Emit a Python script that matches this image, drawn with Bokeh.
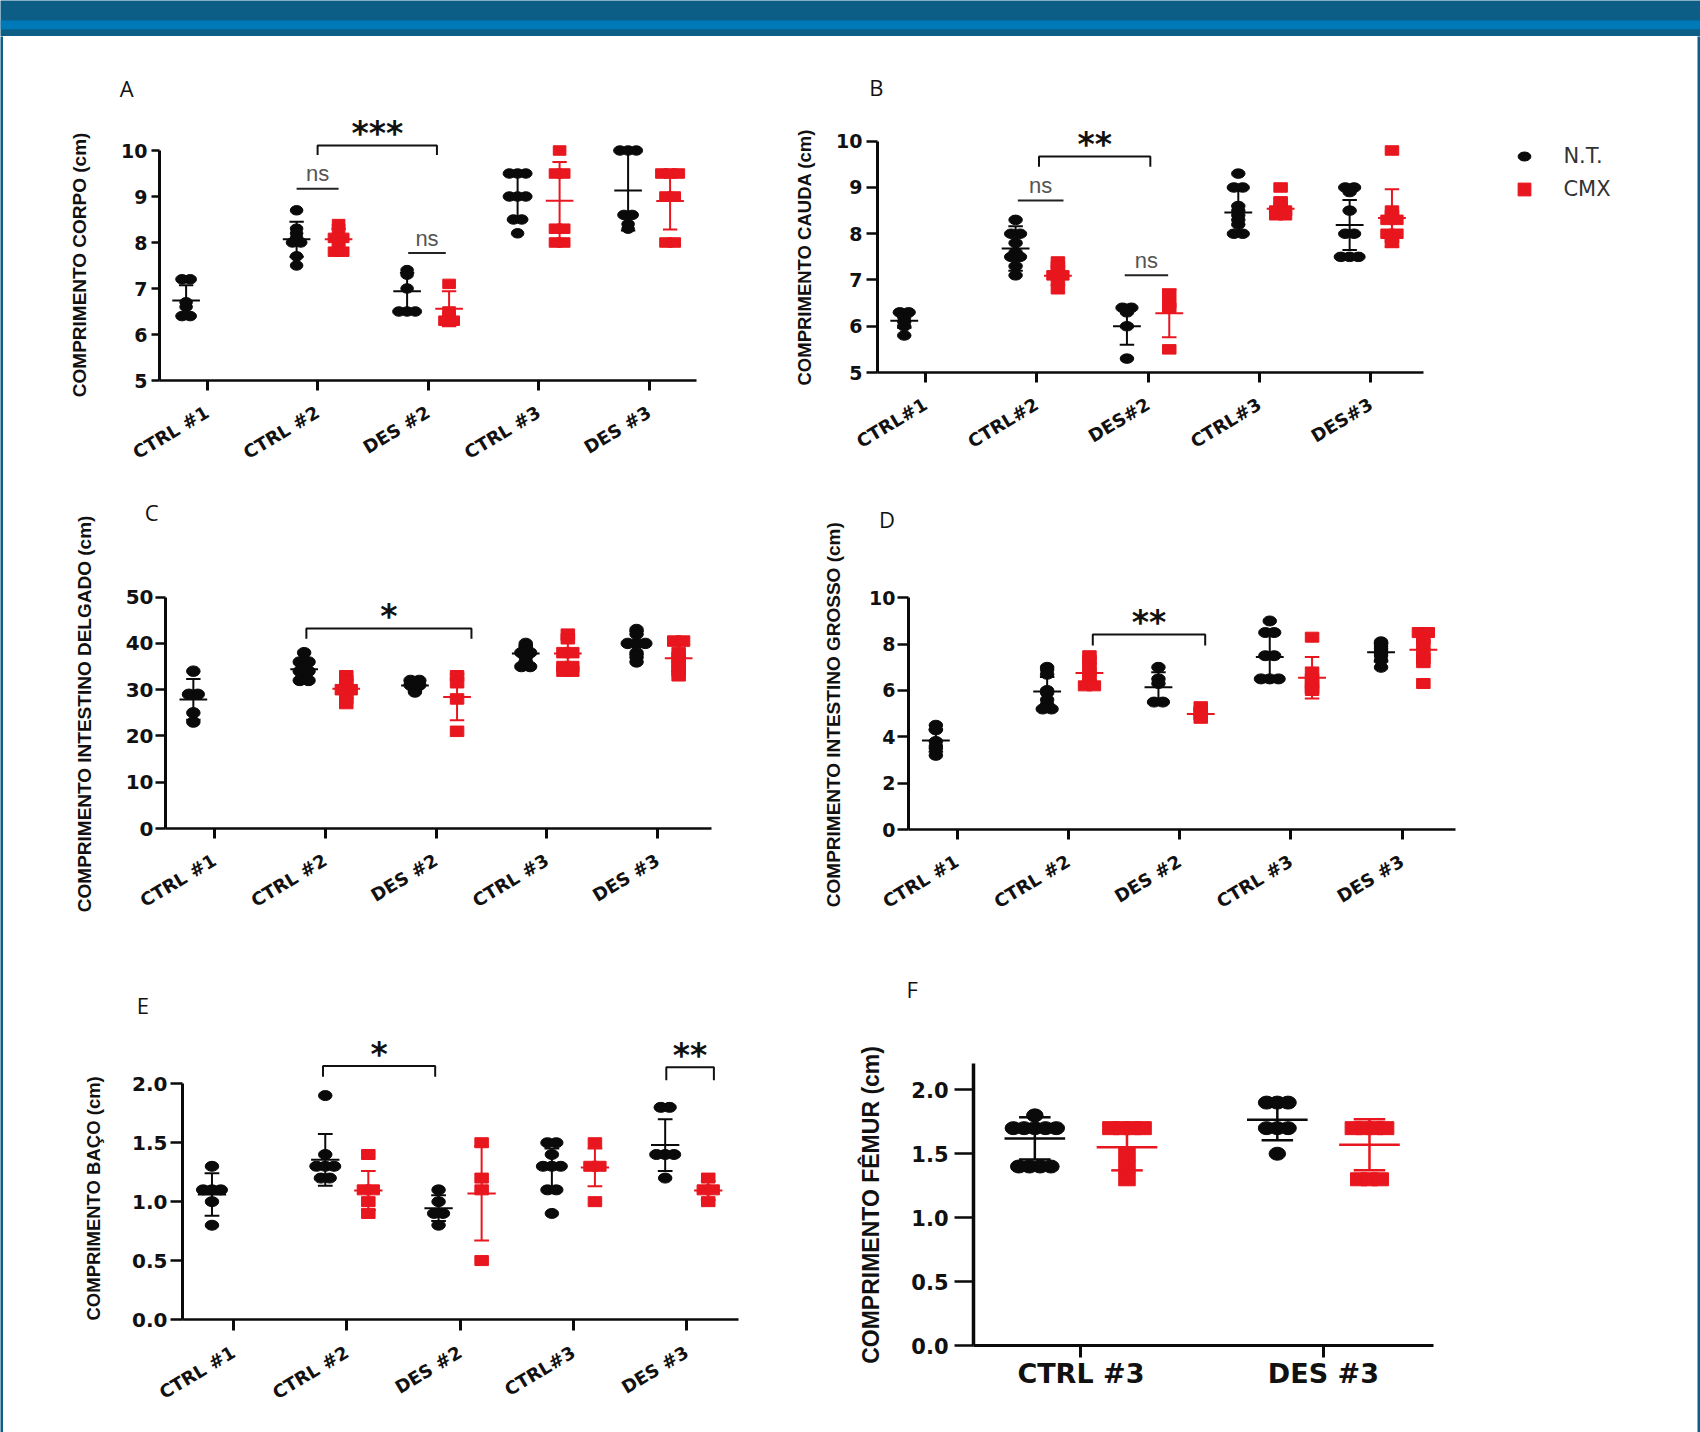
import math
from bokeh.plotting import figure
from bokeh.models import (Range1d, FixedTicker, NumeralTickFormatter, Legend, LegendItem,
                          BoxAnnotation, Title)
from bokeh.layouts import column, row
from bokeh.embed import file_html
from bokeh.resources import INLINE
from bokeh.core.properties import value

# ---------------------------------------------------------------- data
SERIES = ["N.T.", "CMX"]

# A - body length
A_CATS = ["CTRL #1", "CTRL #2", "DES #2", "CTRL #3", "DES #3"]
A_NT = [
    [7.2, 7.2, 6.7, 6.6, 6.4, 6.4],
    [8.7, 8.3, 8.2, 8.1, 8.0, 8.0, 7.7, 7.5],
    [7.4, 7.3, 7.0, 6.5, 6.5, 6.5],
    [9.5, 9.5, 9.5, 9.0, 9.0, 9.0, 8.5, 8.5, 8.2],
    [10.0, 10.0, 10.0, 8.6, 8.6, 8.4, 8.3],
]
A_NT_MEAN = [6.74, 8.07, 6.94, 9.0, 9.13]
A_NT_SD = [0.33, 0.38, 0.40, 0.48, 0.87]
A_CMX = [
    None,
    [8.4, 8.3, 8.1, 8.1, 8.0, 7.9, 7.8, 7.8],
    [7.1, 6.5, 6.4, 6.3, 6.3],
    [10.0, 9.5, 9.5, 8.3, 8.3, 8.0, 8.0],
    [9.5, 9.5, 9.5, 9.0, 9.0, 8.0, 8.0],
]
A_CMX_MEAN = [None, 8.07, 6.56, 8.91, 8.9]
A_CMX_SD = [None, 0.22, 0.38, 0.84, 0.62]
A_YTICKS = [5, 6, 7, 8, 9, 10]
A_SIG = [(2.0, 3.08, 10.11, 9.9, "***")]
A_NS = [(1.81, 2.19, 9.17, "ns"), (2.82, 3.16, 7.77, "ns")]

# B - tail length
B_CATS = ["CTRL#1", "CTRL#2", "DES#2", "CTRL#3", "DES#3"]
B_NT = [
    [6.3, 6.3, 6.2, 6.1, 6.0, 5.8],
    [8.3, 8.0, 8.0, 7.8, 7.6, 7.5, 7.5, 7.3, 7.1],
    [6.4, 6.4, 6.3, 6.0, 5.3],
    [9.3, 9.0, 9.0, 8.6, 8.5, 8.4, 8.3, 8.2, 8.0, 8.0],
    [9.0, 9.0, 8.9, 8.5, 8.0, 8.0, 7.5, 7.5, 7.5],
]
B_NT_MEAN = [6.12, 7.68, 6.0, 8.46, 8.19]
B_NT_SD = [0.15, 0.48, 0.40, 0.48, 0.54]
B_CMX = [
    None,
    [7.4, 7.3, 7.2, 7.1, 7.1, 7.0, 6.8],
    [6.7, 6.5, 6.4, 5.5],
    [9.0, 8.7, 8.6, 8.5, 8.5, 8.4, 8.4],
    [9.8, 8.5, 8.4, 8.3, 8.3, 8.0, 8.0, 7.9, 7.8],
]
B_CMX_MEAN = [None, 7.09, 6.28, 8.54, 8.34]
B_CMX_SD = [None, 0.20, 0.52, 0.22, 0.62]
B_YTICKS = [5, 6, 7, 8, 9, 10]
B_SIG = [(2.02, 3.02, 9.67, 9.45, "**")]
B_NS = [(1.83, 2.24, 8.72, "ns"), (2.79, 3.18, 7.1, "ns")]

# C - small intestine length
C_CATS = ["CTRL #1", "CTRL #2", "DES #2", "CTRL #3", "DES #3"]
C_NT = [
    [34, 29, 29, 25, 23],
    [38, 36, 36, 35, 34, 34, 33, 32, 32],
    [32, 32, 31, 31, 30, 29.5],
    [40, 39.5, 39, 38, 38, 37, 36, 35, 35],
    [43, 42, 40, 40, 40, 38, 37, 36],
]
C_NT_MEAN = [27.9, 34.4, 30.9, 37.8, 40.1]
C_NT_SD = [4.4, 2.0, 1.0, 1.7, 2.5]
C_CMX = [
    None,
    [33, 32, 31, 30, 30, 29, 28, 27],
    [33, 31.5, 28, 21],
    [42, 41, 38, 38, 35, 35, 34, 34],
    [40.5, 40.5, 38, 37, 36, 35, 34, 33],
]
C_CMX_MEAN = [None, 30.2, 28.4, 37.8, 36.8]
C_CMX_SD = [None, 2.0, 5.0, 3.0, 2.8]
C_YTICKS = [0, 10, 20, 30, 40, 50]
C_SIG = [(1.83, 3.32, 43.2, 41.0, "*")]
C_NS = []

# D - large intestine length
D_CATS = ["CTRL #1", "CTRL #2", "DES #2", "CTRL #3", "DES #3"]
D_NT = [
    [4.5, 4.3, 3.8, 3.6, 3.5, 3.2],
    [7.0, 6.9, 6.7, 6.0, 5.9, 5.6, 5.4, 5.2, 5.2],
    [7.0, 6.5, 6.3, 5.5, 5.5],
    [9.0, 8.5, 8.5, 7.5, 7.5, 6.5, 6.5, 6.5],
    [8.1, 8.0, 7.9, 7.8, 7.7, 7.6, 7.5, 7.3, 7.0],
]
D_NT_MEAN = [3.84, 5.96, 6.14, 7.44, 7.65]
D_NT_SD = [0.48, 0.62, 0.65, 0.98, 0.40]
D_CMX = [
    None,
    [7.5, 7.3, 7.0, 6.8, 6.5, 6.3, 6.2, 6.2],
    [5.3, 5.1, 5.0, 4.8],
    [8.3, 6.8, 6.5, 6.3, 6.1, 6.0],
    [8.5, 8.5, 8.2, 8.0, 7.6, 7.4, 7.2, 6.3],
]
D_CMX_MEAN = [None, 6.75, 4.99, 6.55, 7.76]
D_CMX_SD = [None, 0.45, 0.22, 0.90, 0.60]
D_YTICKS = [0, 2, 4, 6, 8, 10]
D_SIG = [(2.22, 3.23, 8.42, 7.94, "**")]
D_NS = []

# E - spleen length
E_CATS = ["CTRL #1", "CTRL #2", "DES #2", "CTRL#3", "DES #3"]
E_NT = [
    [1.3, 1.1, 1.1, 1.1, 1.0, 0.8],
    [1.9, 1.4, 1.3, 1.3, 1.3, 1.2, 1.2],
    [1.1, 1.0, 0.9, 0.9, 0.8],
    [1.5, 1.5, 1.4, 1.3, 1.3, 1.3, 1.1, 1.1, 0.9],
    [1.8, 1.8, 1.4, 1.4, 1.4, 1.2],
]
E_NT_MEAN = [1.06, 1.355, 0.945, 1.28, 1.48]
E_NT_SD = [0.18, 0.22, 0.11, 0.17, 0.22]
E_CMX = [
    None,
    [1.4, 1.1, 1.1, 1.0, 0.9],
    [1.5, 1.2, 1.1, 0.5],
    [1.5, 1.3, 1.3, 1.0],
    [1.2, 1.1, 1.1, 1.0],
]
E_CMX_MEAN = [None, 1.095, 1.07, 1.29, 1.095]
E_CMX_SD = [None, 0.165, 0.40, 0.16, 0.08]
E_YTICKS = [0.0, 0.5, 1.0, 1.5, 2.0]
E_SIG = [(1.79, 2.78, 2.15, 2.06, "*"), (4.82, 5.24, 2.14, 2.03, "**")]
E_NS = []

# F - femur length
F_CATS = ["CTRL #3", "DES #3"]
F_NT = [
    [1.8, 1.7, 1.7, 1.7, 1.7, 1.7, 1.4, 1.4, 1.4, 1.4],
    [1.9, 1.9, 1.9, 1.7, 1.7, 1.7, 1.5],
]
F_NT_MEAN = [1.62, 1.765]
F_NT_SD = [0.165, 0.16]
F_CMX = [
    [1.7, 1.7, 1.7, 1.7, 1.5, 1.4, 1.3],
    [1.7, 1.7, 1.7, 1.7, 1.3, 1.3, 1.3],
]
F_CMX_MEAN = [1.55, 1.57]
F_CMX_SD = [0.18, 0.20]
F_YTICKS = [0.0, 0.5, 1.0, 1.5, 2.0]

# ---------------------------------------------------------------- style
BLACK = "#0a0a0a"
RED = "#e8161e"
DARK = "#0c5e87"
LIGHT = "#0079b8"
DODGE = 0.19
MEAN_HW = 0.125
CAP_HW = 0.065
TICK_FONT = "DejaVu Sans"
LABEL_FONT = "Liberation Sans"
LETTER_SIZE = 22


def swarm(vals, step_px, px_per_x):
    out = [0.0] * len(vals)
    groups = {}
    for i, v in enumerate(vals):
        groups.setdefault(round(v, 6), []).append(i)
    for idx in groups.values():
        k = len(idx)
        for j, i in enumerate(idx):
            out[i] = (j - (k - 1) / 2) * step_px / px_per_x
    return out


def tick_text_width(ticks, fmt, size):
    # DejaVu Sans Bold advance widths (em): digits 0.696, period 0.380
    w = 0.0
    for t in ticks:
        s = ("%.1f" % t) if fmt else ("%d" % t)
        w = max(w, sum(0.38 if ch == "." else 0.696 for ch in s) * size)
    return w


def make_panel(s):
    gl, gt, gr, gb = s["fig"]
    fl, ft, fr, fb = s["frame"]
    t1, sp = s["xcal"]
    x0 = 1 + (fl - t1) / sp
    x1 = 1 + (fr - t1) / sp
    (va, pa), (vb, pb) = s["ycal"]
    sy = (pa - pb) / (vb - va)
    y0 = s["yticks"][0]
    y1 = va + (pa - ft) / sy

    p = figure(width=gr - gl, height=gb - gt, x_range=Range1d(x0, x1), y_range=Range1d(y0, y1),
               output_backend="svg", toolbar_location=None, title=None, frame_align=False,
               min_border_left=fl - gl, min_border_right=gr - fr,
               min_border_top=ft - gt, min_border_bottom=gb - fb,
               outline_line_color=None, background_fill_color="white",
               border_fill_color="white")
    p.grid.visible = False
    mw, mh = s["marker"]
    step = 0.65 * mw
    lw = s["lw"]

    nx, ny, cx, cy = [], [], [], []
    for i, vals in enumerate(s["nt"]):
        xc = i + 1 - DODGE
        for o, v in zip(swarm(vals, step, sp), vals):
            nx.append(xc + o)
            ny.append(v)
    for i, vals in enumerate(s["cmx"]):
        if vals is None:
            continue
        xc = i + 1 + DODGE
        for o, v in zip(swarm(vals, step, sp), vals):
            cx.append(xc + o)
            cy.append(v)
    r_nt = p.ellipse(nx, ny, width=mw, height=mh, width_units="screen", height_units="screen",
                     fill_color=BLACK, line_color=BLACK)
    r_cmx = p.rect(cx, cy, width=mw, height=mh, width_units="screen", height_units="screen",
                   fill_color=RED, line_color=RED)

    def stats(means, sds, sign, color):
        a0, b0, a1, b1 = [], [], [], []
        for i, (m, sd) in enumerate(zip(means, sds)):
            if m is None:
                continue
            xc = i + 1 + sign * DODGE
            a0 += [xc - MEAN_HW, xc, xc - CAP_HW, xc - CAP_HW]
            a1 += [xc + MEAN_HW, xc, xc + CAP_HW, xc + CAP_HW]
            b0 += [m, m - sd, m + sd, m - sd]
            b1 += [m, m + sd, m + sd, m - sd]
        p.segment(a0, b0, a1, b1, line_color=color, line_width=lw)

    stats(s["nt_mean"], s["nt_sd"], -1, BLACK)
    stats(s["cmx_mean"], s["cmx_sd"], 1, RED)

    for (xa, xb, y, yd, lab) in s.get("sig", []):
        p.line([xa, xa, xb, xb], [yd, y, y, yd], line_color="#111111", line_width=2)
        p.text([(xa + xb) / 2], [y], text=[lab], text_align="center", text_baseline="middle",
               y_offset=-12, text_font=value("DejaVu Sans"), text_font_style="bold",
               text_font_size="33px", text_color="#111111")
    for (xa, xb, y, lab) in s.get("ns", []):
        p.line([xa, xb], [y, y], line_color="#222222", line_width=2)
        p.text([(xa + xb) / 2], [y], text=[lab], text_align="center", text_baseline="alphabetic",
               y_offset=-15, text_font=value("Liberation Sans"),
               text_font_size="22px", text_color="#555555")

    # x axis
    xa = p.xaxis[0]
    xa.ticker = FixedTicker(ticks=list(range(1, len(s["cats"]) + 1)))
    xa.major_label_overrides = {i + 1: c for i, c in enumerate(s["cats"])}
    xa.major_label_orientation = s.get("xorient", 0.54)
    xa.axis_line_width = s.get("axw", 2.5)
    xa.axis_line_color = BLACK
    xa.major_tick_line_width = 3
    xa.major_tick_line_color = BLACK
    xa.major_tick_out = s["xtick_out"]
    xa.major_tick_in = 0
    xa.minor_tick_line_color = None
    xa.major_label_text_font = TICK_FONT
    xa.major_label_text_font_style = "bold"
    xa.major_label_text_font_size = s["xfont"]
    xa.major_label_text_color = "#111111"
    xa.major_label_standoff = s.get("xstand", 20)
    if "xend" in s:
        xa.bounds = (x0, 1 + (s["xend"] - t1) / sp)

    # y axis
    ya = p.yaxis[0]
    ya.ticker = FixedTicker(ticks=s["yticks"])
    if s.get("yfmt"):
        ya.formatter = NumeralTickFormatter(format=s["yfmt"])
    ya.bounds = (y0, s.get("ytop", s["yticks"][-1]))
    ya.axis_line_width = s.get("axw", 2.5) + 0.5
    ya.axis_line_color = BLACK
    ya.major_tick_line_width = 2.5
    ya.major_tick_line_color = BLACK
    ya.major_tick_out = s["ytick_out"]
    ya.major_tick_in = 0
    ya.minor_tick_line_color = None
    ya.major_label_text_font = TICK_FONT
    ya.major_label_text_font_style = "bold"
    ya.major_label_text_font_size = "%dpx" % s["yfont"]
    ya.major_label_text_color = "#111111"
    ya.major_label_standoff = s.get("ystand", 4)

    # y axis title: a title on the left side, placed from the reference layout
    lx_left, ly_top, lx_right, ly_bottom = s["ylabel_box"]
    axis_w = s["ytick_out"] + s.get("ystand", 4) + tick_text_width(s["yticks"], s.get("yfmt"), s["yfont"])
    axis_left = fl - axis_w
    p.add_layout(Title(text=s["ylabel"], align="left", vertical_align="bottom",
                       offset=fb - ly_bottom, standoff=max(0, 2 * (axis_left - lx_right)),
                       text_font=LABEL_FONT, text_font_style="bold",
                       text_font_size=s["ylabel_size"], text_color="#111111"), "left")
    # panel letter: a title above the frame
    cxl, cyl = s["letter_pos"]
    p.add_layout(Title(text=s["letter"], align="left", vertical_align="bottom",
                       offset=cxl - 0.33 * LETTER_SIZE - fl,
                       standoff=max(0, 2 * (ft - (cyl + 0.65 * LETTER_SIZE))),
                       text_font="Open Sans", text_font_style="normal",
                       text_font_size="%dpx" % LETTER_SIZE, text_color="#111111"), "above")

    if "legend" in s:
        lgx, lgy = s["legend"]
        leg = Legend(items=[LegendItem(label=SERIES[0], renderers=[r_nt]),
                            LegendItem(label=SERIES[1], renderers=[r_cmx])],
                     location=(lgx - fl, fb - lgy), orientation="vertical",
                     padding=0, margin=0, spacing=9, glyph_height=16, glyph_width=16,
                     label_height=20, label_standoff=31, border_line_color=None,
                     background_fill_alpha=0, label_text_font="DejaVu Sans",
                     label_text_font_size="21px", label_text_color="#333333")
        p.add_layout(leg)
    return p


panels = {
    "A": dict(fig=(3, 36, 760, 490), frame=(159, 108, 696, 380), xcal=(206.6, 110.5),
              ycal=((5, 380), (10, 150)),
              cats=A_CATS, nt=A_NT, nt_mean=A_NT_MEAN, nt_sd=A_NT_SD, cmx=A_CMX,
              cmx_mean=A_CMX_MEAN, cmx_sd=A_CMX_SD, yticks=A_YTICKS,
              sig=A_SIG, ns=A_NS, ylabel="COMPRIMENTO CORPO (cm)", ylabel_size="19px",
              ylabel_box=(68.9, 130, 92.1, 396.7), yfont=19, xfont="18px", ytick_out=8,
              xtick_out=10, marker=(12.6, 9.5), lw=2, letter="A", letter_pos=(126.5, 88.5)),
    "B": dict(fig=(760, 36, 1697, 490), frame=(877, 108, 1677, 372), xcal=(924.9, 111.35),
              ycal=((5, 371.7), (10, 140.7)), xend=1422.5,
              cats=B_CATS, nt=B_NT, nt_mean=B_NT_MEAN, nt_sd=B_NT_SD, cmx=B_CMX,
              cmx_mean=B_CMX_MEAN, cmx_sd=B_CMX_SD, yticks=B_YTICKS,
              sig=B_SIG, ns=B_NS, ylabel="COMPRIMENTO CAUDA (cm)", ylabel_size="18.5px",
              ylabel_box=(787, 126.7, 817, 385), yfont=19, xfont="18px", ytick_out=11,
              xtick_out=10, ystand=4, marker=(13.5, 9.5), lw=2, letter="B",
              letter_pos=(876, 87.5), legend=(1516.4, 200.6)),
    "C": dict(fig=(3, 490, 760, 940), frame=(165, 528, 711, 828), xcal=(213.9, 110.8),
              ycal=((0, 828.3), (50, 596.7)),
              cats=C_CATS, nt=C_NT, nt_mean=C_NT_MEAN, nt_sd=C_NT_SD, cmx=C_CMX,
              cmx_mean=C_CMX_MEAN, cmx_sd=C_CMX_SD, yticks=C_YTICKS,
              sig=C_SIG, ns=C_NS, ylabel="COMPRIMENTO INTESTINO DELGADO (cm)",
              ylabel_size="19px", ylabel_box=(76, 516.7, 97.7, 911.7), yfont=20,
              xfont="18px", ytick_out=10, xtick_out=10, ystand=2, marker=(13.5, 10.5), lw=2,
              letter="C", letter_pos=(151.5, 512)),
    "D": dict(fig=(760, 490, 1697, 940), frame=(908, 536, 1455, 829), xcal=(956.5, 111.3),
              ycal=((0, 829), (10, 597.3)),
              cats=D_CATS, nt=D_NT, nt_mean=D_NT_MEAN, nt_sd=D_NT_SD, cmx=D_CMX,
              cmx_mean=D_CMX_MEAN, cmx_sd=D_CMX_SD, yticks=D_YTICKS,
              sig=D_SIG, ns=D_NS, ylabel="COMPRIMENTO INTESTINO GROSSO (cm)",
              ylabel_size="19px", ylabel_box=(821.3, 520, 845.8, 906.7), yfont=19,
              xfont="18px", ytick_out=11, xtick_out=10, ystand=2, marker=(13.5, 10), lw=2,
              letter="D", letter_pos=(885.7, 518.7)),
    "E": dict(fig=(3, 940, 760, 1432), frame=(182, 1024, 738, 1319), xcal=(233, 113.3),
              ycal=((0, 1319), (2, 1083.3)),
              cats=E_CATS, nt=E_NT, nt_mean=E_NT_MEAN, nt_sd=E_NT_SD, cmx=E_CMX,
              cmx_mean=E_CMX_MEAN, cmx_sd=E_CMX_SD, yticks=E_YTICKS, yfmt="0.0",
              sig=E_SIG, ns=E_NS, ylabel="COMPRIMENTO BAÇO (cm)", ylabel_size="18.5px",
              ylabel_box=(83.5, 1073.3, 105.8, 1320), yfont=20, xfont="18px", ytick_out=12,
              xtick_out=11, ystand=3, marker=(13.5, 10), lw=2, letter="E",
              letter_pos=(143.4, 1004.7)),
    "F": dict(fig=(760, 940, 1697, 1432), frame=(973, 1008, 1433, 1345), xcal=(1080.4, 242.5),
              ycal=((0, 1345), (2, 1089.3)), ytop=2.208,
              cats=F_CATS, nt=F_NT, nt_mean=F_NT_MEAN, nt_sd=F_NT_SD, cmx=F_CMX,
              cmx_mean=F_CMX_MEAN, cmx_sd=F_CMX_SD, yticks=F_YTICKS, yfmt="0.0",
              ylabel="COMPRIMENTO FÊMUR (cm)", ylabel_size="23px",
              ylabel_box=(855.2, 1046.7, 886.3, 1363.3),
              yfont=21, xfont="27px", xorient="horizontal", xstand=0, ytick_out=19,
              xtick_out=12, ystand=6, marker=(16.5, 13), lw=2.5, axw=3, letter="F",
              letter_pos=(913.3, 989.5)),
}

figs = {k: make_panel(v) for k, v in panels.items()}


def band(width, height):
    b = figure(width=width, height=height, x_range=Range1d(0, 1), y_range=Range1d(height, 0),
               output_backend="svg", toolbar_location=None, title=None, min_border=0,
               outline_line_color=None, background_fill_color=DARK, border_fill_color=DARK)
    b.axis.visible = False
    b.grid.visible = False
    return b


header = band(1700, 36)
header.add_layout(BoxAnnotation(top=20, bottom=28.7, fill_color=LIGHT, fill_alpha=1,
                                line_color=None))
left_strip = band(3, 1396)
right_strip = band(3, 1396)

body = column(row(figs["A"], figs["B"]),
              row(figs["C"], figs["D"]),
              row(figs["E"], figs["F"]))
layout = column(header, row(left_strip, body, right_strip))

with open("out.html", "w") as fh:
    fh.write(file_html(layout, INLINE))
